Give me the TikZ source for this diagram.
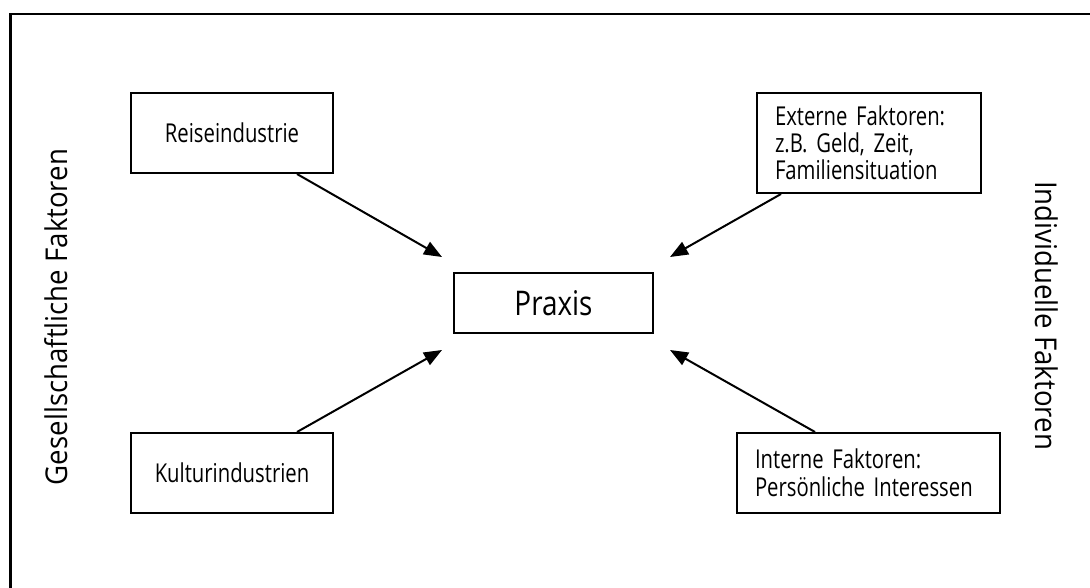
\documentclass[tikz,border=0pt]{standalone}
\usepackage{fontspec}
\setmainfont{Open Sans}
\newfontfamily\boxfont{Open Sans}[FakeStretch=0.78]
\newfontfamily\praxfont{Open Sans}[FakeStretch=0.82]
\newfontfamily\sidefont{Open Sans}[FakeStretch=0.92]
\usetikzlibrary{arrows.meta}
\tikzset{
  boxnode/.style={draw, line width=2pt, inner sep=0pt, minimum height=80pt,
    font=\boxfont\fontsize{26}{27}\selectfont},
  arr/.style={line width=2pt, -{Triangle[length=18pt,width=14pt]}},
  sidelabel/.style={anchor=base, inner sep=0pt, font=\sidefont\fontsize{30}{32}\selectfont},
  frame/.style={line width=2.2pt}
}
\begin{document}
\begin{tikzpicture}[x=1pt,y=-1pt]
\path[use as bounding box, clip] (0,0) rectangle (1090,588);
\fill[white] (0,0) rectangle (1090,588);
\coordinate (fa) at (10.5,620);
\coordinate (fb) at (10.5,14);
\coordinate (fc) at (1120,14);
\draw[frame] (fa) -- (fb) -- (fc);

\node[boxnode, minimum width=202pt] (reise) at (232,133) {Reiseindustrie};
\node[boxnode, minimum width=202pt] (kultur) at (232,473) {Kulturindustrien};
\node[boxnode, minimum height=100pt, inner xsep=18pt, text width=188pt, align=left] (extern) at (869,143)
  {Externe Faktoren:\\z.B. Geld, Zeit,\\Familiensituation};
\node[boxnode, inner xsep=18pt, text width=227pt, align=left, font=\boxfont\fontsize{26}{28}\selectfont] (intern) at (868.5,473)
  {Interne Faktoren:\\Persönliche Interessen};
\node[boxnode, minimum width=199pt, minimum height=60pt, font=\praxfont\fontsize{34}{36}\selectfont] (praxis) at (553.5,303) {Praxis};

\draw[arr] ([xshift=-37pt]reise.south east) -- ([xshift=-11pt,yshift=15pt]praxis.north west);
\draw[arr] ([xshift=25pt]extern.south west) -- ([xshift=16pt,yshift=15pt]praxis.north east);
\draw[arr] ([xshift=-37pt]kultur.north east) -- ([xshift=-11pt,yshift=-16pt]praxis.south west);
\draw[arr] ([xshift=79pt]intern.north west) -- ([xshift=16pt,yshift=-16pt]praxis.south east);

\node[sidelabel, rotate=90] (gesell) at (67,317) {Gesellschaftliche Faktoren};
\node[sidelabel, rotate=-90] (indiv) at (1035,315.5) {Individuelle Faktoren};
\end{tikzpicture}
\end{document}
